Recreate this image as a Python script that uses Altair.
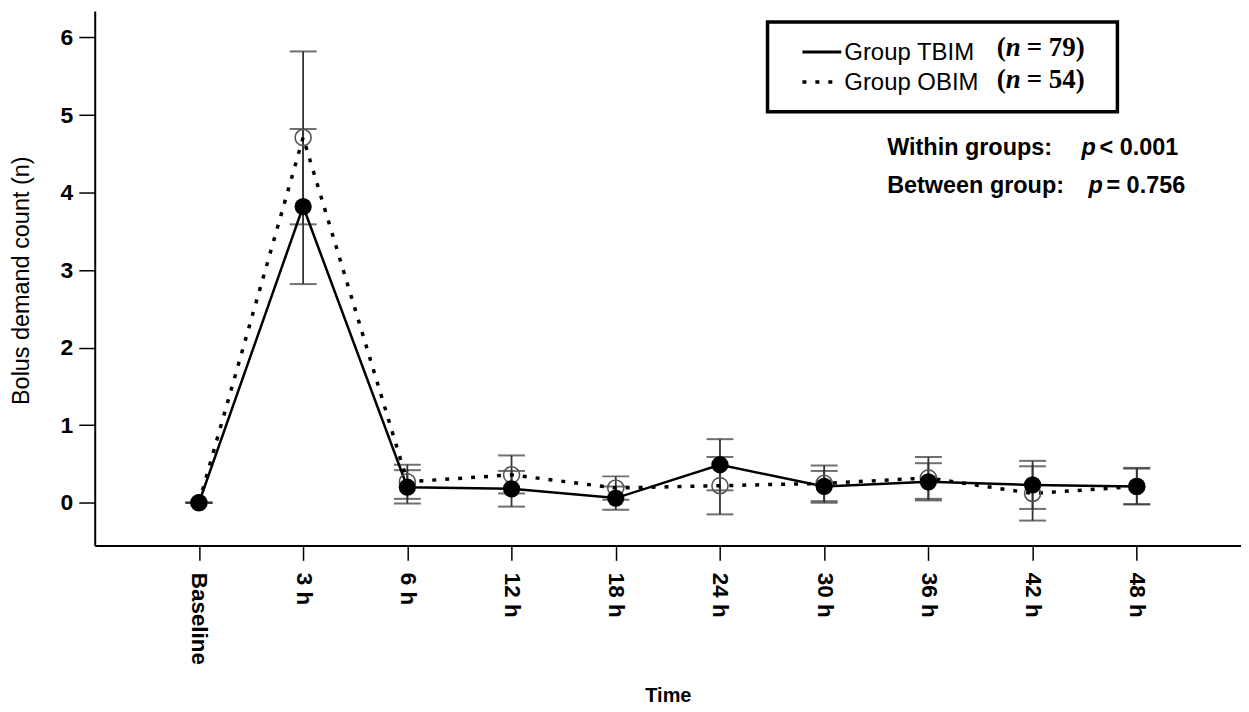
import altair as alt
import pandas as pd

times = ["Baseline", "3 h", "6 h", "12 h", "18 h", "24 h", "30 h", "36 h", "42 h", "48 h"]
tbim_mean = [0, 3.82, 0.20, 0.18, 0.06, 0.49, 0.21, 0.27, 0.23, 0.21]
tbim_low = [0, 2.82, -0.01, -0.05, -0.09, 0.16, 0.00, 0.03, -0.08, -0.02]
tbim_high = [0, 4.82, 0.42, 0.41, 0.21, 0.82, 0.41, 0.51, 0.54, 0.44]
obim_mean = [0, 4.71, 0.27, 0.36, 0.19, 0.22, 0.25, 0.32, 0.12, 0.21]
obim_low = [0, 3.59, 0.05, 0.12, 0.04, -0.15, 0.02, 0.05, -0.23, -0.02]
obim_high = [0, 5.82, 0.49, 0.61, 0.34, 0.59, 0.48, 0.59, 0.47, 0.45]
y_ticks = [0, 1, 2, 3, 4, 5, 6]

df_t = pd.DataFrame({"time": times, "mean": tbim_mean, "low": tbim_low, "high": tbim_high})
df_o = pd.DataFrame({"time": times, "mean": obim_mean, "low": obim_low, "high": obim_high})

SANS = "Liberation Sans"
SERIF = "Liberation Serif"

x_enc = alt.X(
    "time:N", sort=times,
    scale=alt.Scale(type="point", padding=1.03),
    axis=alt.Axis(
        title="Time", labelAngle=90, labelAlign="left", labelBaseline="middle",
        labelFont=SANS, labelFontSize=22.5, labelFontWeight="bold", labelColor="black",
        labelPadding=12, tickSize=15, tickWidth=1.5, tickColor="black",
        domainColor="black", domainWidth=2,
        titleFont=SANS, titleFontSize=20, titleFontWeight="bold", titleColor="black",
        titleX=575, titleY=151, titleBaseline="middle", titleAlign="center",
        grid=False,
    ),
)
y_scale = alt.Scale(domain=[-0.55, 6.34], nice=False, zero=False)
y_axis = alt.Axis(
    title="Bolus demand count (n)", values=y_ticks, format="d",
    labelFont=SANS, labelFontSize=23, labelFontWeight="bold", labelColor="black",
    labelPadding=6, tickSize=16, tickWidth=1.5, tickColor="black",
    domainColor="black", domainWidth=2,
    titleFont=SANS, titleFontSize=23.5, titleFontWeight="normal", titleColor="black",
    titleAngle=-90, titleX=-73, titleY=270, titleAlign="center", titleBaseline="middle",
    grid=False,
)

def err_layers(df):
    base = alt.Chart(df)
    rule = base.mark_rule(color="#333", strokeWidth=1.8).encode(
        x=x_enc, y=alt.Y("low:Q", scale=y_scale, axis=y_axis), y2="high:Q")
    cap_hi = base.mark_tick(color="#333", size=27, thickness=2).encode(
        x=x_enc, y=alt.Y("high:Q", scale=y_scale, axis=y_axis))
    cap_lo = base.mark_tick(color="#333", size=27, thickness=2).encode(
        x=x_enc, y=alt.Y("low:Q", scale=y_scale, axis=y_axis))
    return [rule, cap_hi, cap_lo]

line_o = alt.Chart(df_o).mark_line(color="black", strokeWidth=3.5, strokeDash=[4, 9], strokeCap="butt").encode(
    x=x_enc, y=alt.Y("mean:Q", scale=y_scale, axis=y_axis))
line_t = alt.Chart(df_t).mark_line(color="black", strokeWidth=2.5).encode(
    x=x_enc, y=alt.Y("mean:Q", scale=y_scale, axis=y_axis))
pts_o = alt.Chart(df_o).mark_point(shape="circle", filled=False, size=260, stroke="#555", strokeWidth=1.6, opacity=1).encode(
    x=x_enc, y=alt.Y("mean:Q", scale=y_scale, axis=y_axis))
pts_t = alt.Chart(df_t).mark_circle(size=300, color="black", opacity=1).encode(
    x=x_enc, y=alt.Y("mean:Q", scale=y_scale, axis=y_axis))

one = pd.DataFrame({"k": [0]})

def txt(s, x, y, font=SANS, size=21, weight="bold", style="normal"):
    return alt.Chart(one).mark_text(
        align="left", baseline="middle", font=font, fontSize=size,
        fontWeight=weight, fontStyle=style, color="black",
    ).encode(x=alt.value(x), y=alt.value(y), text=alt.value(s))

legend_box = alt.Chart(one).mark_rect(filled=False, stroke="black", strokeWidth=3.5).encode(
    x=alt.value(675), x2=alt.value(1026), y=alt.value(11), y2=alt.value(101))
legend_solid = alt.Chart(one).mark_rule(color="black", strokeWidth=3).encode(
    x=alt.value(710), x2=alt.value(749), y=alt.value(41))
legend_dot = alt.Chart(one).mark_rule(color="black", strokeWidth=3.5, strokeDash=[4, 9], strokeCap="butt").encode(
    x=alt.value(710), x2=alt.value(749), y=alt.value(71))

annotations = [
    legend_box, legend_solid, legend_dot,
    txt("Group TBIM", 752, 42, size=24, weight="normal"),
    txt("Group OBIM", 752, 72, size=24, weight="normal"),
    txt("(", 905, 37, font=SERIF, size=27),
    txt("n", 914, 37, font=SERIF, size=27, style="italic"),
    txt("= 79)", 935, 37, font=SERIF, size=27),
    txt("(", 905, 69, font=SERIF, size=27),
    txt("n", 914, 69, font=SERIF, size=27, style="italic"),
    txt("= 54)", 935, 69, font=SERIF, size=27),
    txt("Within groups:", 795, 137, size=23.5),
    txt("p", 990, 137, size=23.5, style="italic"),
    txt("< 0.001", 1008, 137, size=23.5),
    txt("Between group:", 795, 175, size=23.5),
    txt("p", 997, 175, size=23.5, style="italic"),
    txt("= 0.756", 1015, 175, size=23.5),
]

layers = err_layers(df_o) + err_layers(df_t) + [line_o, line_t, pts_o, pts_t] + annotations

chart = alt.layer(*layers).properties(
    width=1150, height=536,
    padding={"left": 87, "top": 2, "right": 0, "bottom": 160},
    autosize=alt.AutoSizeParams(type="none"),
    background="white",
).configure_view(stroke=None)

chart.save("out.html", embed_options={"renderer": "svg", "actions": False})
